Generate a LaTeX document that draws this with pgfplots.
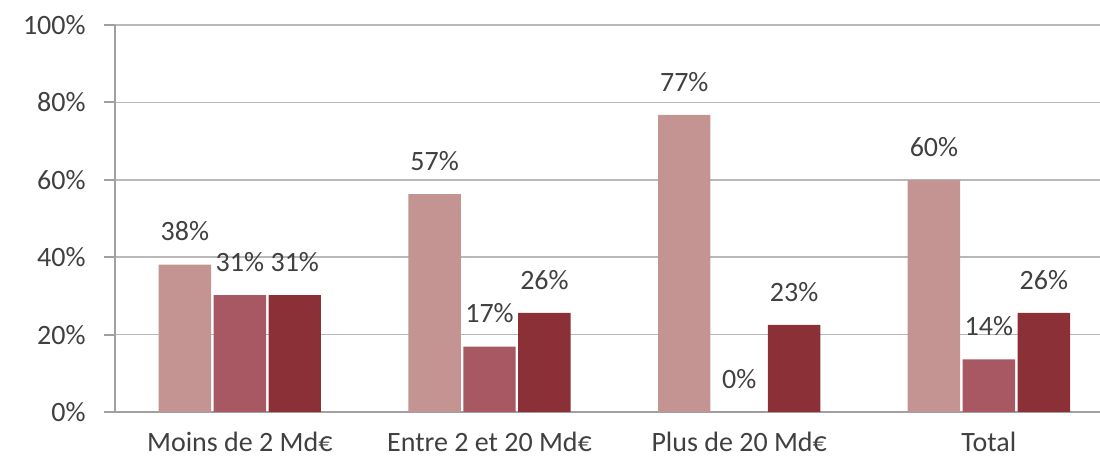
\documentclass[border=0pt]{standalone}
\usepackage{pgfplots}
\pgfplotsset{compat=1.18}
\usepackage{pgfplotstable}
\usepackage{fontspec}
\setmainfont{Carlito}
\definecolor{cA}{HTML}{C49492}
\definecolor{cB}{HTML}{A85862}
\definecolor{cC}{HTML}{8C3038}
\definecolor{txt}{HTML}{404040}
\definecolor{axg}{HTML}{A0A0A0}
\pgfplotstableread{
x y m
0 38.1 38
1 56.3 57
2 76.8 77
3 60.0 60
}\sA
\pgfplotstableread{
x y m
0 30.2 31
1 16.9 17
2 0 0
3 13.6 14
}\sB
\pgfplotstableread{
x y m
0 30.2 31
1 25.6 26
2 22.5 23
3 25.6 26
}\sC
\begin{document}
\fontsize{14}{16}\selectfont
\begin{tikzpicture}
\path[use as bounding box] (-57.5pt,-24.5pt) rectangle (492.5pt,206pt);
\begin{axis}[
  at={(0pt,0pt)}, anchor=south west,
  scale only axis, width=492.5pt, height=193.5pt,
  xmin=-0.5, xmax=3.445, ymin=0, ymax=100,
  axis lines*=left,
  axis line style={draw=axg, line width=1pt},
  ybar, bar width=0.21,
  ymajorgrids, grid style={draw=axg!75, line width=0.8pt},
  ytick={0,20,40,60,80,100},
  yticklabels={0\%,20\%,40\%,60\%,80\%,100\%},
  tick align=outside,
  major tick length=5.5pt,
  ytick style={draw=axg, line width=1pt},
  yticklabel style={text=txt, inner sep=0pt, xshift=-9pt, font=\fontsize{14}{16}\selectfont},
  xtick={0,1,2,3},
  xticklabels={Moins de 2 Md€, Entre 2 et 20 Md€, Plus de 20 Md€, Total},
  xtick style={draw=none},
  xticklabel style={text=txt, inner sep=0pt, yshift=-4.5pt, font=\fontsize{14}{16}\selectfont},
  extra x ticks={-0.5,0.5,1.5,2.5},
  extra x tick labels={},
  extra x tick style={grid=none, major tick length=4pt, tick style={draw=axg, line width=1pt}},
  clip=true,
  point meta=explicit,
  nodes near coords={\pgfmathprintnumber[assume math mode=true]{\pgfplotspointmeta}\%},
  every node near coord/.append style={text=txt, inner sep=0pt, anchor=south, yshift=11.5pt, font=\fontsize{14}{16}\selectfont},
]
\addplot[fill=cA, draw=none, bar shift=-0.22] table[x=x, y=y, meta=m] {\sA};
\addplot[fill=cB, draw=none, bar shift=0] table[x=x, y=y, meta=m] {\sB};
\addplot[fill=cC, draw=none, bar shift=0.22] table[x=x, y=y, meta=m] {\sC};
\end{axis}
\end{tikzpicture}
\end{document}
